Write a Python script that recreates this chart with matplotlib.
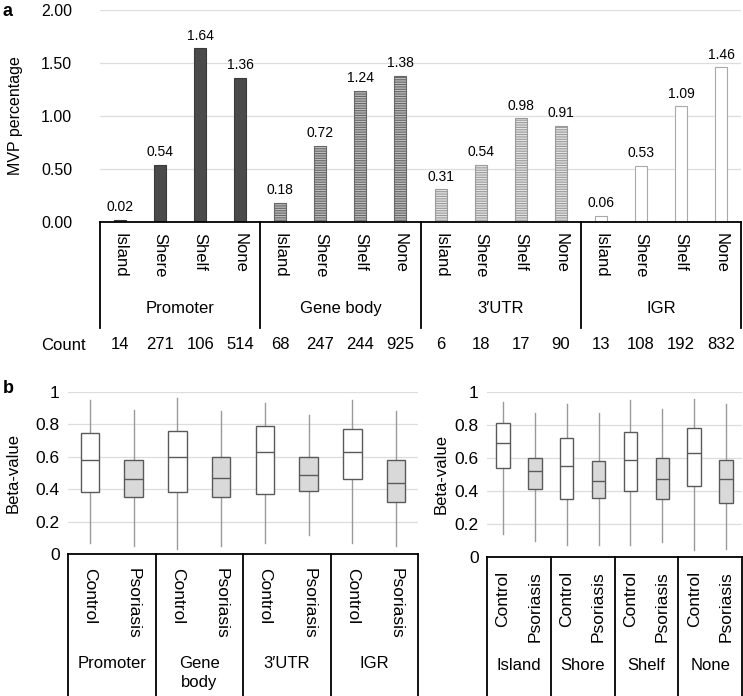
import matplotlib.pyplot as plt
import numpy as np

plt.rcParams['font.family'] = ['Liberation Sans', 'DejaVu Sans']
plt.rcParams['hatch.linewidth'] = 0.8

# ---- panel a data ----
regions = ['Promoter', 'Gene body', "3\u2032UTR", 'IGR']
cpg = ['Island', 'Shere', 'Shelf', 'None']
mvp_pct = [0.02, 0.54, 1.64, 1.36,
           0.18, 0.72, 1.24, 1.38,
           0.31, 0.54, 0.98, 0.91,
           0.06, 0.53, 1.09, 1.46]
counts = [14, 271, 106, 514,
          68, 247, 244, 925,
          6, 18, 17, 90,
          13, 108, 192, 832]

# ---- panel b data (whisker low, Q1, median, Q3, whisker high) ----
groups_left = ['Promoter', 'Gene\nbody', "3\u2032UTR", 'IGR']
groups_right = ['Island', 'Shore', 'Shelf', 'None']
conditions = ['Control', 'Psoriasis']
box_left = [
    (0.07, 0.38, 0.58, 0.75, 0.95), (0.05, 0.35, 0.46, 0.58, 0.89),
    (0.03, 0.38, 0.60, 0.76, 0.96), (0.05, 0.35, 0.47, 0.60, 0.88),
    (0.07, 0.37, 0.63, 0.79, 0.93), (0.12, 0.39, 0.49, 0.60, 0.86),
    (0.07, 0.46, 0.63, 0.77, 0.95), (0.05, 0.32, 0.44, 0.58, 0.88),
]
box_right = [
    (0.14, 0.54, 0.69, 0.81, 0.94), (0.10, 0.41, 0.52, 0.60, 0.87),
    (0.07, 0.35, 0.55, 0.72, 0.93), (0.07, 0.36, 0.46, 0.58, 0.87),
    (0.07, 0.40, 0.59, 0.76, 0.95), (0.09, 0.35, 0.47, 0.60, 0.90),
    (0.04, 0.43, 0.63, 0.78, 0.96), (0.05, 0.33, 0.47, 0.59, 0.93),
]

fig = plt.figure(figsize=(7.43, 6.96), dpi=100)

# ================= panel a =================
ax = fig.add_axes([100 / 743, 1 - 222 / 696, 641 / 743, 212 / 696])
x = np.arange(len(mvp_pct))
styles = [
    dict(color='#4a4a4a', edgecolor='#3a3a3a'),
    dict(color='#bdbdbd', edgecolor='#666666', hatch='-------'),
    dict(color='#e3e3e3', edgecolor='#9a9a9a', hatch='-------'),
    dict(color='white', edgecolor='#a8a8a8'),
]
for g in range(4):
    sl = slice(4 * g, 4 * g + 4)
    ax.bar(x[sl], mvp_pct[sl], width=0.3, linewidth=0.8, zorder=2, **styles[g])
for xi, v in zip(x, mvp_pct):
    ax.annotate(f'{v:.2f}', (xi, v), xytext=(0, 4), textcoords='offset points',
                ha='center', va='bottom', fontsize=10)

ax.set_xlim(-0.5, 15.5)
ax.set_ylim(0, 2)
ax.set_yticks([0, 0.5, 1.0, 1.5, 2.0])
ax.set_yticklabels([f'{t:.2f}' for t in [0, 0.5, 1.0, 1.5, 2.0]], fontsize=11.5)
ax.tick_params(axis='y', length=0, pad=20)
ax.grid(axis='y', color='#dddddd', linewidth=0.9, zorder=0)
ax.set_axisbelow(True)
for s in ['top', 'right', 'left']:
    ax.spines[s].set_visible(False)
ax.spines['bottom'].set_linewidth(1.3)
ax.set_xticks(x)
ax.set_xticklabels(cpg * 4, rotation=-90, fontsize=12)
ax.tick_params(axis='x', length=0, pad=8)
ax.set_ylabel('MVP percentage', fontsize=11.5)
ax.yaxis.set_label_coords(-0.12, 0.5)

trans = ax.get_xaxis_transform()
for sx in [-0.5, 3.5, 7.5, 11.5, 15.5]:
    ax.plot([sx, sx], [0, -0.5], color='black', lw=1.3, transform=trans, clip_on=False)
for g, name in enumerate(regions):
    ax.text(4 * g + 1.5, -0.41, name, transform=trans, ha='center', va='center', fontsize=12)
for xi, c in zip(x, counts):
    ax.text(xi, -0.58, str(c), transform=trans, ha='center', va='center', fontsize=12)
fig.text(63 / 743, 1 - 345 / 696, 'Count', ha='center', va='center', fontsize=12)

fig.text(0.004, 0.995, 'a', fontsize=13, fontweight='bold', va='top', ha='left')
fig.text(0.004, 1 - 380 / 696, 'b', fontsize=13, fontweight='bold', va='top', ha='left')


# ================= panel b =================
def box_panel(ax, stats_list, group_names, rot, label_top):
    stats = []
    for lo, q1, med, q3, hi in stats_list:
        stats.append(dict(whislo=lo, q1=q1, med=med, q3=q3, whishi=hi, fliers=[]))
    pos = np.arange(len(stats))
    bp = ax.bxp(stats, positions=pos, widths=0.42, showcaps=False, showfliers=False,
                patch_artist=True,
                boxprops=dict(edgecolor='#5a5a5a', linewidth=1.0),
                whiskerprops=dict(color='#9a9a9a', linewidth=1.0),
                medianprops=dict(color='#5a5a5a', linewidth=1.0))
    for i, patch in enumerate(bp['boxes']):
        patch.set_facecolor('white' if i % 2 == 0 else '#d9d9d9')
        patch.set_zorder(3)
    for m in bp['medians']:
        m.set_zorder(4)
    ax.set_xlim(-0.5, len(stats) - 0.5)
    ax.set_ylim(0, 1)
    ticks = [0, 0.2, 0.4, 0.6, 0.8, 1]
    ax.set_yticks(ticks)
    ax.set_yticklabels(['0', '0.2', '0.4', '0.6', '0.8', '1'], fontsize=12.5)
    ax.tick_params(axis='y', length=0, pad=6)
    ax.grid(axis='y', color='#dddddd', linewidth=0.9, zorder=0)
    ax.set_axisbelow(True)
    for s in ['top', 'right', 'left']:
        ax.spines[s].set_visible(False)
    ax.spines['bottom'].set_linewidth(1.3)
    ax.set_xticks(pos)
    ax.set_xticklabels(conditions * len(group_names), rotation=rot, fontsize=12.5)
    ax.tick_params(axis='x', length=0, pad=10)
    ax.set_ylabel('Beta-value', fontsize=12)
    tr = ax.get_xaxis_transform()
    for sx in np.arange(-0.5, len(stats), 2):
        ax.plot([sx, sx], [0, -1.2], color='black', lw=1.3, transform=tr, clip_on=False)
    for g, name in enumerate(group_names):
        ax.text(2 * g + 0.5, label_top, name, transform=tr, ha='center', va='top',
                fontsize=12, linespacing=1.3)


axl = fig.add_axes([68 / 743, 1 - 554 / 696, 350 / 743, 162 / 696])
box_panel(axl, box_left, groups_left, -90, -0.63)
axl.yaxis.set_label_coords(-0.135, 0.5)

axr = fig.add_axes([487 / 743, 1 - 557 / 696, 255 / 743, 165 / 696])
box_panel(axr, box_right, groups_right, 90, -0.61)
axr.yaxis.set_label_coords(-0.15, 0.5)

fig.savefig('out.png', dpi=100)
